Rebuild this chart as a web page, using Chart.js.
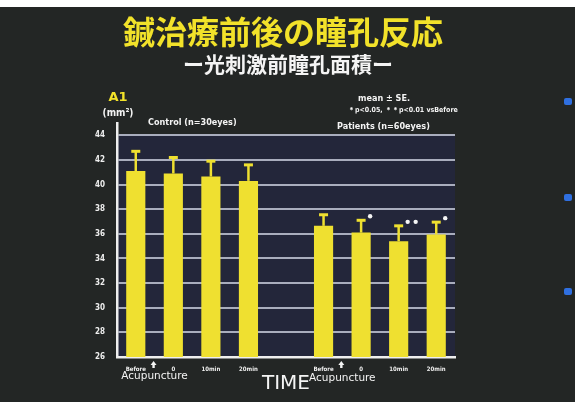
<!DOCTYPE html>
<html>
<head>
<meta charset="utf-8">
<script src="https://cdn.jsdelivr.net/npm/chart.js@4.4.0/dist/chart.umd.min.js"></script>
<style>
  html, body { margin: 0; padding: 0; background: #ffffff; }
  #slide { position: absolute; left: 0; top: 7px; width: 575px; height: 395px; background: #232625; }
  .mark { position: absolute; left: 564px; width: 8px; height: 7px; background: #2f6fe0; border-radius: 2px; }
  #wrap { position: absolute; left: 0; top: 0; width: 580px; height: 408px; }
</style>
</head>
<body>
<div id="slide"></div>
<div class="mark" style="top:98px"></div>
<div class="mark" style="top:194px"></div>
<div class="mark" style="top:288px"></div>
<div id="wrap"><canvas id="pupilChart" width="580" height="408"></canvas></div>
<script>
// categories: control group, gap, patient group
const timeLabels = ["Before", "0", "10min", "20min", "", "Before", "0", "10min", "20min"];
const areaMeans = [41.1, 40.9, 40.65, 40.3, null, 36.65, 36.1, 35.4, 35.95];
const areaSE = [1.6, 1.3, 1.25, 1.3, null, 0.9, 1.0, 1.25, 1.0];
const sigMarks = ["", "", "", "", "", "", "*", "**", "*"];
const yTicks = [26, 28, 30, 32, 34, 36, 38, 40, 42, 44];

const yellow = "#efe030";

// title, labels, error bars and other slide text
const slidePlugin = {
    id: "slide",
    beforeDraw(chart) {
        const { ctx, chartArea } = chart;
        const top = chart.scales.y.getPixelForValue(44);
        ctx.save();
        ctx.fillStyle = "#23263a";
        ctx.fillRect(chartArea.left, top, chartArea.right - chartArea.left, chartArea.bottom - top);
        ctx.restore();
    },
    afterDatasetsDraw(chart) {
        const { ctx } = chart;
        const meta = chart.getDatasetMeta(0);
        const yScale = chart.scales.y;
        const xScale = chart.scales.x;
        ctx.save();
        // error bars (upper half)
        ctx.strokeStyle = yellow;
        meta.data.forEach((bar, i) => {
            if (areaMeans[i] == null) return;
            const yTop = yScale.getPixelForValue(areaMeans[i] + areaSE[i]);
            ctx.lineWidth = 2.5;
            ctx.beginPath();
            ctx.moveTo(bar.x, bar.y);
            ctx.lineTo(bar.x, yTop);
            ctx.stroke();
            ctx.lineWidth = 3;
            ctx.beginPath();
            ctx.moveTo(bar.x - 4.5, yTop);
            ctx.lineTo(bar.x + 4.5, yTop);
            ctx.stroke();
            // significance
            ctx.fillStyle = "#f4f4f4";
            for (let k = 0; k < sigMarks[i].length; k++) {
                ctx.beginPath();
                ctx.arc(bar.x + 9 + k * 8, yTop - 4, 2.2, 0, Math.PI * 2);
                ctx.fill();
            }
        });

        // acupuncture arrows
        [0, 5].forEach((i) => {
            const ax = (xScale.getPixelForValue(i) + xScale.getPixelForValue(i + 1)) / 2 - 1;
            ctx.fillStyle = "#f4f4f4";
            ctx.beginPath();
            ctx.moveTo(ax, 361);
            ctx.lineTo(ax - 3, 365);
            ctx.lineTo(ax + 3, 365);
            ctx.closePath();
            ctx.fill();
            ctx.fillRect(ax - 1.2, 364, 2.4, 4);
            ctx.font = "10.5px 'DejaVu Sans', sans-serif";
            ctx.textAlign = "center";
            ctx.textBaseline = "middle";
            ctx.fillText("Acupuncture", ax + 1, i === 0 ? 376 : 378);
        });

        // titles
        ctx.textAlign = "center";
        ctx.textBaseline = "middle";
        ctx.fillStyle = "#f2e22a";
        ctx.font = "bold 32px 'Noto Sans CJK JP', sans-serif";
        ctx.fillText("鍼治療前後の瞳孔反応", 283, 32);
        ctx.fillStyle = "#f4f4f4";
        ctx.font = "bold 21px 'Noto Sans CJK JP', sans-serif";
        ctx.fillText("ー光刺激前瞳孔面積ー", 288, 64);

        // axis label
        ctx.fillStyle = "#f2e22a";
        ctx.font = "bold 13px 'DejaVu Sans', sans-serif";
        ctx.fillText("A1", 118, 98);
        ctx.fillStyle = "#f4f4f4";
        ctx.font = "bold 10px 'DejaVu Sans Condensed', sans-serif";
        ctx.fillText("(mm²)", 118, 113);

        // group labels and notes
        ctx.font = "bold 9px 'DejaVu Sans Condensed', sans-serif";
        ctx.textAlign = "left";
        ctx.fillText("Control (n=30eyes)", 148, 123);
        ctx.fillText("Patients (n=60eyes)", 337, 127);
        ctx.fillText("mean ± SE.", 358, 99);
        ctx.font = "bold 7px 'DejaVu Sans Condensed', sans-serif";
        ctx.fillText("＊p<0.05, ＊＊p<0.01 vsBefore", 348, 110);
        ctx.restore();
    }
};

const ctx = document.getElementById("pupilChart").getContext("2d");
new Chart(ctx, {
    type: "bar",
    data: {
        labels: timeLabels,
        datasets: [
            {
                data: areaMeans,
                backgroundColor: yellow,
                borderWidth: 0,
                categoryPercentage: 1.0,
                barPercentage: 0.51,
            },
        ],
    },
    options: {
        responsive: false,
        animation: false,
        layout: { padding: { left: 0, top: 123, right: 125, bottom: 0 } },
        plugins: {
            legend: { display: false },
            tooltip: { enabled: false },
        },
        scales: {
            x: {
                grid: { display: false },
                border: { display: true, color: "#eeeeee", width: 2.5 },
                ticks: {
                    color: "#eeeeee",
                    font: { size: 6, weight: "bold", family: "'DejaVu Sans Condensed', sans-serif" },
                    padding: 1,
                    maxRotation: 0,
                    autoSkip: false,
                },
                title: {
                    display: true,
                    text: "TIME",
                    color: "#f4f4f4",
                    font: { size: 20, family: "'DejaVu Sans', sans-serif" },
                    padding: { top: 0, bottom: 12 },
                },
                afterFit(scale) {
                    scale.height = 51;
                },
            },
            y: {
                min: 26,
                max: 45,
                afterBuildTicks(scale) {
                    scale.ticks = yTicks.map((v) => ({ value: v }));
                },
                grid: { color: "#a9adbd", lineWidth: 2, drawTicks: false },
                border: { display: true, color: "#eeeeee", width: 2.5 },
                ticks: {
                    color: "#eeeeee",
                    padding: 12,
                    font: { size: 8, weight: "bold", family: "'DejaVu Sans Condensed', sans-serif" },
                },
                afterFit(scale) {
                    scale.width = 117;
                },
            },
        },
    },
    plugins: [slidePlugin],
});
</script>
</body>
</html>
